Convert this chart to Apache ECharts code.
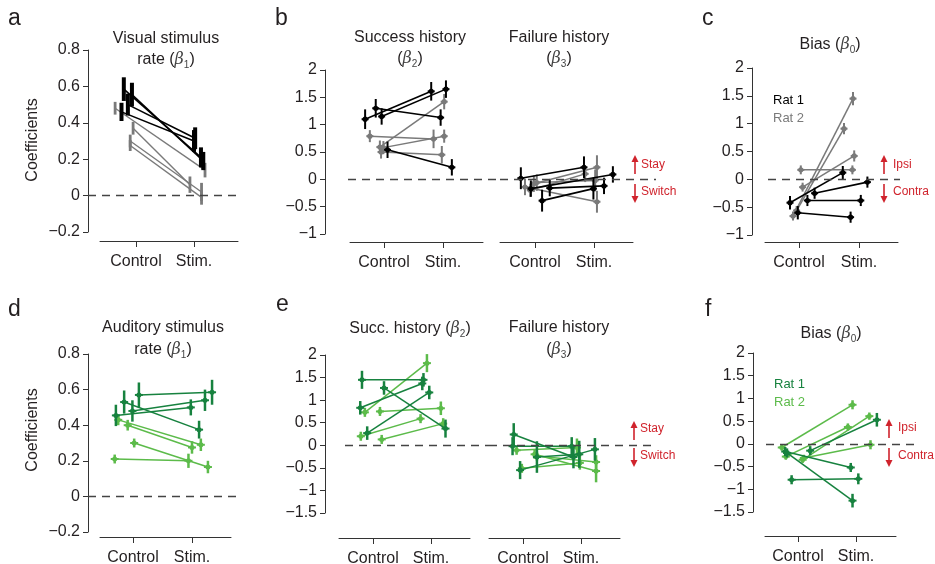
<!DOCTYPE html>
<html>
<head>
<meta charset="utf-8">
<script src="https://cdn.jsdelivr.net/npm/echarts@6/dist/echarts.min.js"></script>
<style>
  html, body { margin: 0; padding: 0; background: #fff; }
  #chart { width: 935px; height: 564px; }
</style>
</head>
<body>
<div id="chart"></div>
<script>
// Per-session GLM coefficients: [rat, control coef, control SE, stim coef, stim SE]
// Jitter arrays: horizontal offset of each session's control / stim point (x-axis units)

// Visual task
const visualRate = [
  [1, 0.585, 0.065, 0.21, 0.055],
  [1, 0.555, 0.065, 0.19, 0.05],
  [1, 0.50, 0.06, 0.315, 0.06],
  [1, 0.46, 0.05, 0.30, 0.06],
  [2, 0.48, 0.035, 0.14, 0.04],
  [2, 0.37, 0.035, 0.06, 0.045],
  [2, 0.30, 0.035, 0.02, 0.05],
  [2, 0.275, 0.03, -0.01, 0.04]
];
const visualRateJitter = [[-0.21, 0.12], [-0.07, 0.16], [-0.14, 0.02], [-0.25, 0.0], [-0.36, 0.19], [-0.05, -0.07], [-0.1, 0.13], [-0.1, 0.13]];

const visualSuccess = [
  [1, 1.10, 0.18, 1.61, 0.17],
  [1, 1.30, 0.17, 1.13, 0.15],
  [1, 1.15, 0.15, 1.65, 0.16],
  [1, 0.54, 0.15, 0.22, 0.15],
  [2, 0.79, 0.11, 0.74, 0.17],
  [2, 0.59, 0.12, 1.42, 0.14],
  [2, 0.50, 0.12, 0.45, 0.16],
  [2, 0.58, 0.12, 0.79, 0.12]
];
const visualSuccessJitter = [[-0.32, -0.2], [-0.14, -0.04], [-0.04, 0.05], [0.06, 0.15], [-0.24, -0.16], [-0.07, 0.02], [-0.05, -0.02], [-0.01, 0.02]];

const visualFailure = [
  [1, 0.02, 0.2, 0.22, 0.2],
  [1, -0.17, 0.15, 0.09, 0.15],
  [1, -0.39, 0.2, -0.17, 0.2],
  [1, -0.16, 0.15, -0.12, 0.15],
  [2, -0.14, 0.15, -0.41, 0.2],
  [2, -0.2, 0.12, 0.10, 0.15],
  [2, -0.08, 0.15, 0.22, 0.22],
  [2, -0.06, 0.15, -0.02, 0.2]
];
const visualFailureJitter = [[-0.24, -0.17], [-0.07, 0.32], [0.12, -0.01], [0.25, 0.17], [-0.17, 0.05], [-0.08, -0.15], [-0.02, 0.05], [0.03, 0.02]];

const visualBias = [
  [1, -0.42, 0.12, 0.12, 0.12],
  [1, -0.60, 0.12, -0.68, 0.1],
  [1, -0.38, 0.1, -0.38, 0.1],
  [1, -0.25, 0.1, -0.05, 0.1],
  [2, -0.66, 0.08, 1.45, 0.12],
  [2, -0.56, 0.08, 0.91, 0.1],
  [2, -0.14, 0.08, 0.42, 0.1],
  [2, 0.17, 0.08, 0.17, 0.08]
];
const visualBiasJitter = [[-0.15, -0.27], [-0.02, -0.14], [0.14, 0.03], [0.26, 0.14], [-0.1, -0.1], [-0.04, -0.25], [0.06, -0.08], [0.03, -0.11]];

// Auditory task
const auditoryRate = [
  [1, 0.455, 0.06, 0.50, 0.045],
  [1, 0.53, 0.065, 0.375, 0.05],
  [1, 0.48, 0.06, 0.54, 0.06],
  [1, 0.57, 0.07, 0.585, 0.07],
  [2, 0.21, 0.025, 0.20, 0.04],
  [2, 0.43, 0.03, 0.29, 0.035],
  [2, 0.40, 0.03, 0.275, 0.035],
  [2, 0.30, 0.025, 0.165, 0.035]
];
const auditoryRateJitter = [[-0.29, -0.02], [-0.15, 0.12], [-0.01, 0.22], [0.1, 0.34], [-0.31, -0.06], [-0.25, 0.15], [-0.09, 0.0], [0.02, 0.27]];

const auditorySuccess = [
  [1, 1.45, 0.2, 1.45, 0.15],
  [1, 1.27, 0.15, 0.37, 0.2],
  [1, 0.83, 0.15, 1.37, 0.15],
  [1, 0.27, 0.15, 1.17, 0.15],
  [2, 0.73, 0.1, 1.82, 0.2],
  [2, 0.75, 0.1, 0.82, 0.15],
  [2, 0.20, 0.1, 0.59, 0.1],
  [2, 0.13, 0.1, 0.48, 0.12]
];
const auditorySuccessJitter = [[-0.19, -0.13], [0.19, 0.25], [-0.22, -0.15], [-0.1, -0.03], [-0.14, -0.07], [0.12, 0.17], [-0.21, -0.18], [0.15, 0.21]];

const auditoryFailure = [
  [1, 0.24, 0.25, -0.26, 0.25],
  [1, -0.02, 0.2, -0.02, 0.2],
  [1, -0.55, 0.2, -0.09, 0.25],
  [1, -0.26, 0.35, -0.2, 0.3],
  [2, -0.11, 0.1, -0.05, 0.2],
  [2, -0.24, 0.1, -0.37, 0.15],
  [2, -0.51, 0.1, -0.39, 0.15],
  [2, -0.2, 0.1, -0.57, 0.25]
];
const auditoryFailureJitter = [[-0.16, -0.13], [-0.18, -0.16], [-0.05, 0.24], [0.24, -0.03], [-0.11, -0.07], [0.24, 0.26], [-0.02, -0.02], [0.2, 0.26]];

const auditoryBias = [
  [1, -0.17, 0.1, -0.52, 0.1],
  [1, -0.2, 0.1, -1.25, 0.15],
  [1, -0.79, 0.1, -0.77, 0.12],
  [1, -0.15, 0.1, 0.53, 0.15],
  [2, -0.08, 0.07, 0.86, 0.1],
  [2, -0.28, 0.07, 0.37, 0.08],
  [2, -0.35, 0.07, 0.61, 0.08],
  [2, -0.31, 0.07, -0.02, 0.1]
];
const auditoryBiasJitter = [[-0.22, -0.09], [-0.19, -0.06], [-0.11, 0.04], [0.21, 0.36], [-0.28, -0.06], [-0.21, -0.14], [0.08, 0.23], [0.1, 0.25]];

const xTickLabels = ['Control', 'Stim.'];
const ratNames = ['Rat 1', 'Rat 2'];

// ---------------------------------------------------------------------------
const FONT = '"Liberation Sans", Arial, Helvetica, sans-serif';
const INK = '#231f20';
const AXIS = '#333333';
const RED = '#d0232c';
const PALETTES = {
  grey: ['#000000', '#7a7a7a'],
  green: ['#17823f', '#5cbb4a']
};
const MARKS = {
  bar: [{ lw: 1.6, ebw: 4, cross: 0, dot: 0 }, { lw: 1.4, ebw: 2.8, cross: 0, dot: 0 }],
  dot: [{ lw: 1.6, ebw: 2, cross: 3.5, dot: 2.6 }, { lw: 1.5, ebw: 2, cross: 3.5, dot: 2.6 }],
  plus: [{ lw: 1.5, ebw: 2.5, cross: 4, dot: 2.5 }, { lw: 1.5, ebw: 2.5, cross: 4, dot: 2.5 }]
};

// Layout of each sub-panel (pixels); x-axis unit: Control = 0, Stim. = 1
const panels = [
  { rows: visualRate, jit: visualRateJitter, pal: 'grey', mark: 'bar',
    data: { left: 88, top: 50, width: 150, height: 182, ctrl: 136, unit: 58, y: [-0.2, 0.8, 0.2], showY: true, zero: [88, 238] },
    axis: { left: 100, right: 238, y: 241 } },
  { rows: visualSuccess, jit: visualSuccessJitter, pal: 'grey', mark: 'dot',
    data: { left: 325, top: 70, width: 175, height: 164, ctrl: 384, unit: 59, y: [-1, 2, 0.5], showY: true, zero: [348, 500] },
    axis: { left: 350, right: 483, y: 242 } },
  { rows: visualFailure, jit: visualFailureJitter, pal: 'grey', mark: 'dot',
    data: { left: 500, top: 70, width: 160, height: 164, ctrl: 535, unit: 59, y: [-1, 2, 0.5], showY: false, zero: [500, 656] },
    axis: { left: 500, right: 633, y: 242 } },
  { rows: visualBias, jit: visualBiasJitter, pal: 'grey', mark: 'dot',
    data: { left: 752, top: 68, width: 148, height: 167, ctrl: 799, unit: 60, y: [-1, 2, 0.5], showY: true, zero: [768, 900] },
    axis: { left: 765, right: 898, y: 242 } },
  { rows: auditoryRate, jit: auditoryRateJitter, pal: 'green', mark: 'plus',
    data: { left: 88, top: 354, width: 152, height: 178, ctrl: 133, unit: 59, y: [-0.2, 0.8, 0.2], showY: true, zero: [88, 240] },
    axis: { left: 100, right: 231, y: 537 } },
  { rows: auditorySuccess, jit: auditorySuccessJitter, pal: 'green', mark: 'plus',
    data: { left: 325, top: 355, width: 164, height: 158, ctrl: 373, unit: 58, y: [-1.5, 2, 0.5], showY: true, zero: [345, 489] },
    axis: { left: 339, right: 470, y: 538 } },
  { rows: auditoryFailure, jit: auditoryFailureJitter, pal: 'green', mark: 'plus',
    data: { left: 489, top: 355, width: 168, height: 158, ctrl: 523, unit: 58, y: [-1.5, 2, 0.5], showY: false, zero: [489, 655] },
    axis: { left: 489, right: 620, y: 538 } },
  { rows: auditoryBias, jit: auditoryBiasJitter, pal: 'green', mark: 'plus',
    data: { left: 753, top: 353, width: 162, height: 159, ctrl: 798, unit: 58, y: [-1.5, 2, 0.5], showY: true, zero: [766, 915] },
    axis: { left: 765, right: 896, y: 536 } }
];

const grids = [], xAxes = [], yAxes = [], series = [];

function fmtY(v) {
  const r = Math.round(v * 10) / 10;
  return String(r).replace('-', '\u2212');
}

function makeRender(color, st) {
  return function (params, api) {
    const cx = api.value(0), cy = api.value(1), ce = api.value(2);
    const sx = api.value(3), sy = api.value(4), se = api.value(5);
    const pc = api.coord([cx, cy]), ps = api.coord([sx, sy]);
    const kids = [{
      type: 'line',
      shape: { x1: pc[0], y1: pc[1], x2: ps[0], y2: ps[1] },
      style: { stroke: color, lineWidth: st.lw }
    }];
    [[cx, cy, ce, pc], [sx, sy, se, ps]].forEach(function (pt) {
      const hi = api.coord([pt[0], pt[1] + pt[2]]);
      const lo = api.coord([pt[0], pt[1] - pt[2]]);
      const p = pt[3];
      kids.push({ type: 'line', shape: { x1: p[0], y1: hi[1], x2: p[0], y2: lo[1] },
        style: { stroke: color, lineWidth: st.ebw } });
      if (st.cross) {
        kids.push({ type: 'line', shape: { x1: p[0] - st.cross, y1: p[1], x2: p[0] + st.cross, y2: p[1] },
          style: { stroke: color, lineWidth: 2 } });
      }
      if (st.dot) {
        kids.push({ type: 'circle', shape: { cx: p[0], cy: p[1], r: st.dot }, style: { fill: color } });
      }
    });
    return { type: 'group', children: kids };
  };
}

panels.forEach(function (pn) {
  const d = pn.data;
  // data grid
  const gi = grids.length;
  grids.push({ left: d.left, top: d.top, width: d.width, height: d.height, outerBoundsMode: 'none' });
  xAxes.push({
    gridIndex: gi, type: 'value', show: false,
    min: (d.left - d.ctrl) / d.unit, max: (d.left + d.width - d.ctrl) / d.unit
  });
  const xi = xAxes.length - 1;
  yAxes.push({
    gridIndex: gi, type: 'value', show: d.showY, position: 'left',
    min: d.y[0], max: d.y[1], interval: d.y[2],
    axisLine: { show: true, onZero: false, lineStyle: { color: AXIS, width: 1 } },
    axisTick: { show: true, length: 5, lineStyle: { color: AXIS, width: 1 } },
    axisLabel: { formatter: fmtY, color: INK, fontSize: 16, fontFamily: FONT, margin: 8 },
    splitLine: { show: false }
  });
  const yi = yAxes.length - 1;

  // x-axis, drawn offset below the data
  const a = pn.axis;
  const ag = grids.length;
  grids.push({ left: a.left, top: a.y - 20, width: a.right - a.left, height: 20, outerBoundsMode: 'none' });
  xAxes.push({
    gridIndex: ag, type: 'value', position: 'bottom',
    min: (a.left - d.ctrl) / d.unit, max: (a.right - d.ctrl) / d.unit,
    axisLine: { show: true, onZero: false, lineStyle: { color: AXIS, width: 1 } },
    axisTick: { show: true, length: 6, customValues: [0, 1], lineStyle: { color: AXIS, width: 1 } },
    axisLabel: { customValues: [0, 1], formatter: function (v) { return xTickLabels[Math.round(v)]; },
      color: INK, fontSize: 16, fontFamily: FONT, margin: 13 },
    splitLine: { show: false }
  });
  yAxes.push({ gridIndex: ag, type: 'value', show: false, min: 0, max: 1 });

  const pal = PALETTES[pn.pal];
  // Rat 2 first so Rat 1 sits on top
  [2, 1].forEach(function (rat, k) {
    const items = [];
    pn.rows.forEach(function (r, i) {
      if (r[0] !== rat) return;
      items.push([pn.jit[i][0], r[1], r[2], 1 + pn.jit[i][1], r[3], r[4]]);
    });
    const s = {
      type: 'custom',
      name: ratNames[rat - 1],
      xAxisIndex: xi, yAxisIndex: yi,
      renderItem: makeRender(pal[rat - 1], MARKS[pn.mark][rat - 1]),
      encode: { x: [0, 3], y: [1, 4] },
      data: items,
      silent: true,
      z: 3 + k
    };
    if (k === 0) {
      s.markLine = {
        silent: true, symbol: 'none', label: { show: false },
        lineStyle: { type: [8, 6], color: '#444', width: 1.3 },
        data: [[{ coord: [(d.zero[0] - d.ctrl) / d.unit, 0] }, { coord: [(d.zero[1] - d.ctrl) / d.unit, 0] }]]
      };
    }
    series.push(s);
  });
});

// ---------------------------------------------------------------------------
// Text, titles and annotations
const graphics = [];
function text(x, y, str, opt) {
  opt = opt || {};
  graphics.push({
    type: 'text', x: x, y: y, rotation: opt.rotation || 0, silent: true,
    style: {
      text: str, fill: opt.color || INK, fontFamily: FONT, fontSize: opt.size || 16,
      align: opt.align || 'center', verticalAlign: 'middle', rich: opt.rich
    }
  });
}
const betaRich = {
  t: { fontSize: 16, fontFamily: FONT, fill: INK, lineHeight: 20 },
  b: { fontSize: 16, fontFamily: '"DejaVu Serif", serif', fontStyle: 'italic', fill: '#444', lineHeight: 20 },
  s: { fontSize: 10, fontFamily: FONT, fill: '#444', lineHeight: 9, verticalAlign: 'bottom' }
};
function betaText(x, y, prefix, idx) {
  text(x, y, '{t|' + prefix + '(}{b|\u03b2}{s|' + idx + '}{t|)}', { rich: betaRich });
}

// panel letters
[['a', 8, 19], ['b', 275, 19], ['c', 702, 19], ['d', 8, 310], ['e', 276, 305], ['f', 705, 310]]
  .forEach(function (l) { text(l[1], l[2], l[0], { size: 23, align: 'left' }); });

// titles
text(166, 39, 'Visual stimulus');
betaText(166, 60, 'rate ', 1);
text(410, 38, 'Success history');
betaText(410, 59, '', 2);
text(559, 38, 'Failure history');
betaText(559, 59, '', 3);
betaText(830, 45, 'Bias ', 0);

text(163, 328, 'Auditory stimulus');
betaText(163, 350, 'rate ', 1);
betaText(410, 329, 'Succ. history ', 2);
text(559, 328, 'Failure history');
betaText(559, 350, '', 3);
betaText(831, 334, 'Bias ', 0);

// y-axis titles
text(33, 140, 'Coefficients', { rotation: Math.PI / 2 });
text(33, 430, 'Coefficients', { rotation: Math.PI / 2 });

// rat legends
text(773, 100, ratNames[0], { size: 13, align: 'left', color: PALETTES.grey[0] });
text(773, 118, ratNames[1], { size: 13, align: 'left', color: PALETTES.grey[1] });
text(774, 384, ratNames[0], { size: 13, align: 'left', color: PALETTES.green[0] });
text(774, 402, ratNames[1], { size: 13, align: 'left', color: PALETTES.green[1] });

// red direction arrows
function arrow(x, tail, tip) {
  const dir = tail > tip ? 1 : -1;
  graphics.push({
    type: 'line', silent: true,
    shape: { x1: x, y1: tail, x2: x, y2: tip + dir * 5 },
    style: { stroke: RED, lineWidth: 1.6 }
  });
  graphics.push({
    type: 'polygon', silent: true,
    shape: { points: [[x - 3.5, tip + dir * 7], [x + 3.5, tip + dir * 7], [x, tip]] },
    style: { fill: RED }
  });
}
function arrowPair(x, upTail, upTip, dnTail, dnTip, upText, dnText, upY, dnY, tx) {
  arrow(x, upTail, upTip);
  arrow(x, dnTail, dnTip);
  text(tx, upY, upText, { size: 12, align: 'left', color: RED });
  text(tx, dnY, dnText, { size: 12, align: 'left', color: RED });
}
arrowPair(635, 174, 155, 184, 203, 'Stay', 'Switch', 165, 192, 641);
arrowPair(634, 440, 421, 448, 467, 'Stay', 'Switch', 429, 456, 640);
arrowPair(884, 174, 155, 184, 203, 'Ipsi', 'Contra', 165, 192, 893);
arrowPair(889, 438, 419, 448, 467, 'Ipsi', 'Contra', 428, 456, 898);

const chart = echarts.init(document.getElementById('chart'), null, { renderer: 'canvas' });
chart.setOption({
  animation: false,
  backgroundColor: '#ffffff',
  grid: grids,
  xAxis: xAxes,
  yAxis: yAxes,
  series: series,
  graphic: { elements: graphics }
});
</script>
</body>
</html>
